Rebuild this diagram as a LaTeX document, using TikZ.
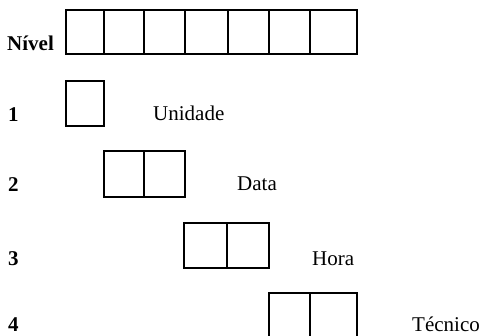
\documentclass[tikz,border=0pt]{standalone}
\usepackage{fontspec}
\setmainfont{Liberation Serif}
\begin{document}
\begin{tikzpicture}[x=1pt,y=-1pt,
  cell/.style={draw, line width=1.8pt, inner sep=0pt, outer sep=0pt, minimum height=#1},
  cell/.default=44pt,
  lbl/.style={inner sep=0pt, anchor=base west, font=\fontsize{21}{25}\selectfont},
  num/.style={inner sep=0pt, anchor=base west, font=\fontsize{21}{25}\selectfont\bfseries}]
\useasboundingbox (0,0) rectangle (485,335);
% top row
\node[num] (niv) at (7,50) {Nível};
\node[cell, minimum width=38.3pt] (t1) at (84.85,32) {};
\node[cell, minimum width=40pt] (t2) at (124,32) {};
\node[cell, minimum width=41pt] (t3) at (164.5,32) {};
\node[cell, minimum width=42.7pt] (t4) at (206.35,32) {};
\node[cell, minimum width=41pt] (t5) at (248.2,32) {};
\node[cell, minimum width=41.3pt] (t6) at (289.35,32) {};
\node[cell, minimum width=47.3pt] (t7) at (333.65,32) {};
% row 1
\node[num] (n1) at (8,121) {1};
\node[cell=45pt, minimum width=38.3pt] (u1) at (84.85,103.5) {};
\node[lbl] (unidade) at (153,120) {Unidade};
% row 2
\node[num] (n2) at (8,191.5) {2};
\node[cell=46pt, minimum width=40pt] (d1) at (124,174) {};
\node[cell=46pt, minimum width=41pt] (d2) at (164.5,174) {};
\node[lbl] (data) at (237,190.7) {Data};
% row 3
\node[num] (n3) at (8,265) {3};
\node[cell=45pt, minimum width=43pt] (h1) at (205.5,245.5) {};
\node[cell=45pt, minimum width=42pt] (h2) at (248,245.5) {};
\node[lbl] (hora) at (312,265) {Hora};
% row 4
\node[num] (n4) at (8,331.5) {4};
\node[cell=47pt, minimum width=41pt] (c1) at (289.5,316.5) {};
\node[cell=47pt, minimum width=47pt] (c2) at (333.5,316.5) {};
\node[lbl] (tecnico) at (412,331) {Técnico};
\end{tikzpicture}
\end{document}
